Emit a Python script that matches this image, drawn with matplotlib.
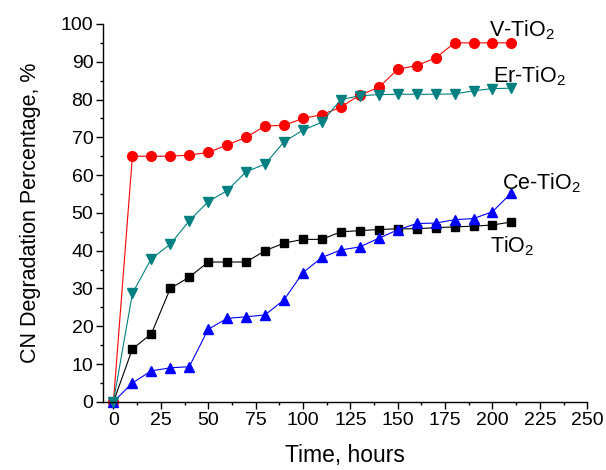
import matplotlib
matplotlib.use("Agg")
import matplotlib.pyplot as plt
from matplotlib.ticker import MultipleLocator

plt.rcParams['font.family'] = ['Liberation Sans', 'DejaVu Sans']

# time points (hours)
hours = [0, 10, 20, 30, 40, 50, 60, 70, 80, 90, 100, 110,
         120, 130, 140, 150, 160, 170, 180, 190, 200, 210]

# CN degradation, %
tio2 = [0, 14, 18, 30, 33, 37, 37, 37, 40, 42, 43, 43,
        45, 45.3, 45.6, 45.8, 45.8, 46.1, 46.3, 46.5, 46.8, 47.6]
v_tio2 = [0, 65, 65, 65, 65.3, 66, 68, 70, 73, 73.2, 75, 76,
          78, 81.2, 83.2, 88, 89, 91, 95, 95, 95, 95]
ce_tio2 = [0, 5, 8.2, 9, 9.3, 19.2, 22.1, 22.5, 23, 27, 34.2, 38.2,
           40.2, 41, 43.3, 45.5, 47.2, 47.3, 48.2, 48.5, 50.3, 55.3]
er_tio2 = [0, 28.7, 37.9, 41.7, 47.9, 53, 55.9, 60.9, 62.9, 68.8, 71.9, 74,
           80, 81, 81.3, 81.4, 81.4, 81.4, 81.5, 82.3, 82.9, 83]

fig = plt.figure(figsize=(6.06, 4.70), dpi=100)
ax = fig.add_axes([0.170, 0.145, 0.799, 0.804])

ax.plot(hours, tio2, color='black', marker='s', markersize=5.5, linewidth=0.8, clip_on=False)
ax.plot(hours, v_tio2, color='#ff0000', marker='o', markersize=7, linewidth=0.8, clip_on=False)
ax.plot(hours, ce_tio2, color='#0000ff', marker='^', markersize=7.5, linewidth=0.8, clip_on=False)
ax.plot(hours, er_tio2, color='#008080', marker='v', markersize=7.5, linewidth=0.8, clip_on=False)

# series labels
ax.text(198, 96.8, r'V-TiO$\mathregular{_2}$', fontsize=15.5)
ax.text(200.5, 84.5, r'Er-TiO$\mathregular{_2}$', fontsize=15.5)
ax.text(205, 56.3, r'Ce-TiO$\mathregular{_2}$', fontsize=15.5)
ax.text(198.5, 39.5, r'TiO$\mathregular{_2}$', fontsize=15.5)

ax.set_xlim(-5.5, 250)
ax.set_ylim(0, 100)
ax.xaxis.set_major_locator(MultipleLocator(25))
ax.xaxis.set_minor_locator(MultipleLocator(12.5))
ax.yaxis.set_major_locator(MultipleLocator(10))
ax.yaxis.set_minor_locator(MultipleLocator(5))

ax.spines['top'].set_visible(False)
ax.spines['right'].set_visible(False)
for s in ['left', 'bottom']:
    ax.spines[s].set_linewidth(1.0)

ax.tick_params(which='major', direction='out', length=5, width=1, labelsize=14, pad=2)
ax.tick_params(which='minor', direction='out', length=2.5, width=1)

ax.set_xlabel('Time, hours', fontsize=16.5, labelpad=11)
ax.set_ylabel('CN Degradation Percentage, %', fontsize=15.5, labelpad=14)

fig.savefig('out.png', dpi=100)
